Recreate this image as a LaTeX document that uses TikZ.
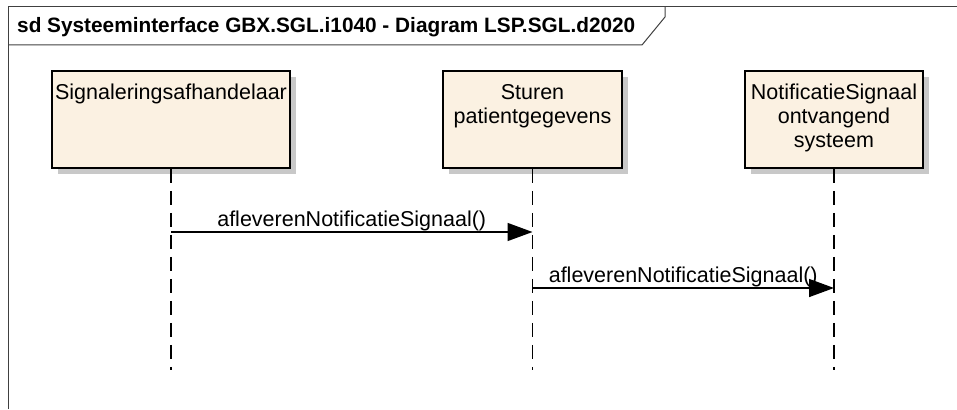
\documentclass[tikz,border=0pt]{standalone}
\usepackage{fontspec}
\setmainfont{Liberation Sans}
\usepackage{tikz}
\usetikzlibrary{arrows.meta}
\usetikzlibrary{shadows}
\tikzset{>=latex}
\definecolor{boxfill}{RGB}{251,241,226}
\definecolor{shadegray}{RGB}{200,200,200}
\definecolor{framecol}{RGB}{64,64,64}
\tikzset{lifebox/.style = {shape=rectangle,draw,fill=boxfill,line width=1.5pt,minimum width=#1,minimum height=97pt,inner sep=0pt,
                           drop shadow={shadow xshift=6pt,shadow yshift=-6pt,fill=shadegray,opacity=1}}}
\tikzset{boxtext/.style = {anchor=north,align=center,inner sep=0pt,font=\fontsize{21.5}{24}\selectfont}}
\tikzset{lifeline/.style = {line width=1.5pt,dash pattern=on 14pt off 8pt}}
\tikzset{msg/.style = {line width=1.5pt,-{Triangle[length=25pt,width=18pt]}}}
\tikzset{msglabel/.style = {anchor=base,inner sep=0pt,yshift=6pt,font=\fontsize{21.5}{24}\selectfont}}

\begin{document}
\begin{tikzpicture}[x=1pt,y=-1pt]
                    \useasboundingbox (0,0) rectangle (957,409);

                    \draw[framecol,line width=1pt] (8,409) -- (8,7) -- (957,7);
                    \draw[framecol,line width=1pt] (8,45) -- (642,45) -- (665,17) -- (665,7);
                    \node[anchor=base west,inner sep=0pt,font=\fontsize{20.8}{24}\selectfont\bfseries] (title) at (17,33)
                        {sd Systeeminterface GBX.SGL.i1040 - Diagram LSP.SGL.d2020};

                    \node[lifebox=238pt] (sig) at (171,119.5) {};
                    \node[lifebox=179pt] (stur) at (532.5,119.5) {};
                    \node[lifebox=178pt] (notif) at (834,119.5) {};

                    \node[boxtext] (sigtxt) at (171,84) {Signaleringsafhandelaar};
                    \node[boxtext] (sturtxt) at (532.5,84) {Sturen\\patientgegevens};
                    \node[boxtext] (notiftxt) at (834,84) {NotificatieSignaal\\ontvangend\\systeem};

                    \coordinate (sigend) at (171,370);
                    \coordinate (sturend) at (532.5,370);
                    \coordinate (notifend) at (834,370);

                    \draw[lifeline] (sig.south) -- (sigend);
                    \draw[lifeline] (stur.south) -- (sturend);
                    \draw[lifeline] (notif.south) -- (notifend);

                    \coordinate (m1from) at (sig.south |- 0,232);
                    \coordinate (m1to) at (stur.south |- 0,232);
                    \coordinate (m2from) at (stur.south |- 0,288);
                    \coordinate (m2to) at (notif.south |- 0,288);

                    \draw[msg] (m1from) -- node[msglabel] (m1) {afleverenNotificatieSignaal()} (m1to);
                    \draw[msg] (m2from) -- node[msglabel] (m2) {afleverenNotificatieSignaal()} (m2to);
                \end{tikzpicture}
\end{document}
